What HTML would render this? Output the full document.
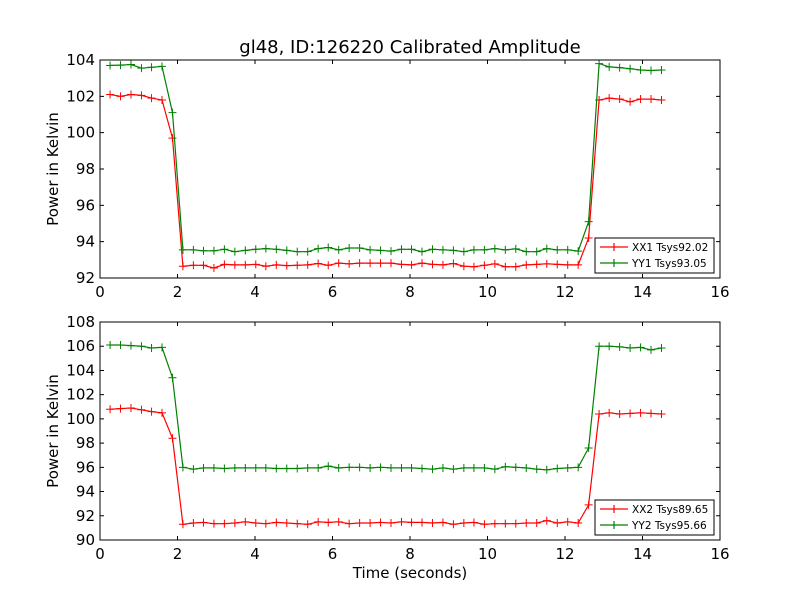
<!DOCTYPE html>
<html><head><meta charset="utf-8"><style>
body{margin:0;background:#fff}
svg text{font-family:"DejaVu Sans","Liberation Sans",sans-serif}
</style></head><body>
<svg id="c" width="800" height="600" viewBox="0 0 800 600">
<rect width="800" height="600" fill="#fff"/>
<text x="410" y="53" font-size="18" text-anchor="middle">gl48, ID:126220 Calibrated Amplitude</text>
<text x="410" y="578" font-size="15" text-anchor="middle">Time (seconds)</text>
</svg>
<script>
const times=[0.26,0.53,0.80,1.07,1.33,1.60,1.87,2.14,2.41,2.67,2.94,3.21,3.48,3.75,4.02,4.28,4.55,4.82,5.09,5.36,5.63,5.89,6.16,6.43,6.70,6.97,7.24,7.51,7.78,8.04,8.31,8.58,8.85,9.12,9.39,9.65,9.92,10.19,10.46,10.73,11.00,11.27,11.53,11.80,12.07,12.34,12.61,12.88,13.14,13.41,13.68,13.95,14.22,14.49];
const xx1=[102.1,102.0,102.1,102.05,101.9,101.8,99.7,92.65,92.7,92.7,92.55,92.75,92.72,92.72,92.75,92.65,92.72,92.68,92.7,92.72,92.8,92.7,92.82,92.78,92.82,92.82,92.82,92.82,92.75,92.72,92.82,92.75,92.72,92.8,92.65,92.62,92.7,92.78,92.62,92.62,92.72,92.75,92.78,92.75,92.72,92.72,94.2,101.8,101.9,101.85,101.7,101.85,101.85,101.8];
const yy1=[103.7,103.72,103.75,103.55,103.6,103.65,101.1,93.55,93.55,93.5,93.5,93.58,93.45,93.52,93.58,93.62,93.58,93.52,93.45,93.45,93.62,93.68,93.55,93.65,93.65,93.55,93.52,93.48,93.58,93.58,93.45,93.58,93.55,93.52,93.45,93.55,93.55,93.62,93.55,93.6,93.45,93.45,93.62,93.55,93.55,93.48,95.1,103.8,103.62,103.58,103.52,103.45,103.42,103.45];
const xx2=[100.8,100.85,100.9,100.75,100.6,100.5,98.4,91.3,91.4,91.45,91.35,91.35,91.4,91.5,91.4,91.35,91.45,91.4,91.35,91.3,91.5,91.45,91.5,91.35,91.4,91.4,91.45,91.4,91.5,91.45,91.45,91.4,91.45,91.3,91.4,91.45,91.3,91.35,91.35,91.35,91.4,91.4,91.6,91.4,91.5,91.4,92.9,100.4,100.5,100.4,100.45,100.5,100.45,100.4];
const yy2=[106.1,106.1,106.05,106.0,105.85,105.9,103.4,96.0,95.85,95.95,95.95,95.9,95.95,95.95,95.95,95.95,95.9,95.9,95.9,95.95,95.95,96.1,95.95,96.0,96.0,95.95,96.0,95.95,95.95,95.95,95.9,95.85,95.95,95.85,95.95,95.95,95.95,95.85,96.05,96.0,95.95,95.85,95.8,95.9,95.95,96.0,97.6,106.0,106.0,105.95,105.85,105.9,105.7,105.85];
const xTicks=[0,2,4,6,8,10,12,14,16];
const yTicksTop=[92,94,96,98,100,102,104];
const yTicksBot=[90,92,94,96,98,100,102,104,106,108];
const legendTop=["XX1 Tsys92.02","YY1 Tsys93.05"];
const legendBot=["XX2 Tsys89.65","YY2 Tsys95.66"];

const NS="http://www.w3.org/2000/svg";
const svg=document.getElementById('c');
function mk(t,a,p){const e=document.createElementNS(NS,t);for(const k in a)e.setAttribute(k,a[k]);(p||svg).appendChild(e);return e;}

function panel(name,top,ymin,ymax,yTicks,series,labels){
  const L=100,R=720,T=top,B=top+218;
  const xs=v=>L+(v-0)/(16-0)*(R-L);
  const ys=v=>B-(v-ymin)/(ymax-ymin)*(B-T);
  const g=mk('g',{});
  
  
  const colors=['#ff0000','#008000'];
  series.forEach((s,si)=>{
    const pts=times.map((t,i)=>xs(t).toFixed(1)+','+ys(s[i]).toFixed(1)).join(' ');
    const pl=mk('polyline',{points:pts,fill:'none',stroke:colors[si],'stroke-width':1.2},g);
    
    
    let d='';
    times.forEach((t,i)=>{const x=xs(t),y=ys(s[i]);d+=`M${x-4},${y}h8M${x},${y-4}v8`;});
    const mp=mk('path',{d:d,stroke:colors[si],'stroke-width':1,fill:'none'},g);
    
    
  });
  const fr=mk('rect',{x:L,y:T,width:R-L,height:B-T,fill:'none',stroke:'#000','stroke-width':1},g);
  
  
  xTicks.forEach(v=>{
    const x=xs(v);
    mk('path',{d:`M${x},${B}v-4M${x},${T}v4`,stroke:'#000'},g);
    const t=mk('text',{x:x,y:B+19,'font-size':15,'text-anchor':'middle'},g);
    t.textContent=v;
    
    
  });
  yTicks.forEach(v=>{
    const y=ys(v);
    mk('path',{d:`M${L},${y}h4M${R},${y}h-4`,stroke:'#000'},g);
    const t=mk('text',{x:L-5,y:y+5,'font-size':15,'text-anchor':'end'},g);
    t.textContent=v;
    
    
  });
  const yt=mk('text',{x:58,y:(T+B)/2,'font-size':15,'text-anchor':'middle',transform:`rotate(-90 58 ${(T+B)/2})`},g);
  yt.textContent='Power in Kelvin';
  
  
  const lg=mk('g',{},g);
  
  
  mk('rect',{x:595,y:B-40,width:119,height:35,fill:'#fff',stroke:'#000'},lg);
  labels.forEach((lab,i)=>{
    const y=B-31+i*16;
    mk('path',{d:`M600,${y}h28M614,${y-4}v8`,stroke:colors[i],'stroke-width':1.2},lg);
    const t=mk('text',{x:632,y:y+4,'font-size':10.5},lg);
    t.textContent=lab;
    
    
  });
}
panel('top',60,92,104,yTicksTop,[xx1,yy1],legendTop);
panel('bottom',322,90,108,yTicksBot,[xx2,yy2],legendBot);
</script>
</body></html>
